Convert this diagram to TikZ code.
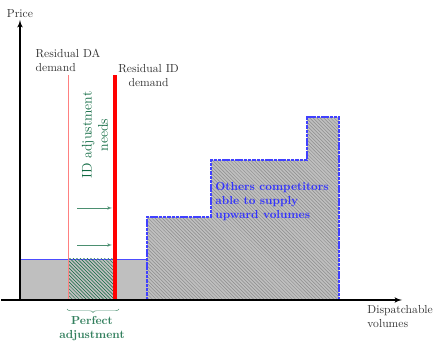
\documentclass[tikz,border=0pt]{standalone}
\usepackage{tikz}
\usetikzlibrary{arrows,positioning,patterns,decorations.pathreplacing,calc}

\definecolor{adjgreen}{RGB}{15,105,65}

\begin{document}
\begin{tikzpicture}[
        x=0.86pt, y=0.86pt,
        >=latex',
        axis/.style={
            ->,
            line width=1.2pt,
            black
        },
        lbl/.style={
            text=black!80,
            align=left,
            inner sep=1pt
        },
        base/.style={
            fill=gray!50
        },
        offer/.style={
            fill=gray!50
        },
        hatch/.style={
            pattern=north west lines,
            pattern color=gray!90
        },
        offerline/.style={
            draw=blue!75,
            line width=1pt,
            dash pattern=on 3pt off 0.7pt
        },
        adjust/.style={
            pattern=north west lines,
            pattern color=adjgreen
        },
        need/.style={
            ->,
            adjgreen!75,
            thin
        }
    ]
    \useasboundingbox (0,0) rectangle (437,342);

    % Coordinates
    \coordinate (O) at (20,42);
    \coordinate (xstart) at (1,42);
    \coordinate (xend) at (402,42);
    \coordinate (yend) at (20,322);
    \coordinate (daTop) at (68,267);
    \coordinate (idTop) at (115,267);

    % Supply blocks
    \fill [base] (O) rectangle (147,83);
    \draw [blue!70] (20,83) -- (147,83);
    \fill [offer] (147,42) -- (147,125) -- (211,125) -- (211,182) -- (307,182)
        -- (307,225) -- (339,225) -- (339,42) -- cycle;
    \fill [hatch] (148,42) -- (148,124) -- (212,124) -- (212,181) -- (308,181)
        -- (308,224) -- (338,224) -- (338,42) -- cycle;
    \fill [adjust] (68,42) rectangle (115,83);
    \draw [offerline] (147,42) -- (147,125) -- (211,125) -- (211,182) -- (307,182)
        -- (307,225) -- (339,225) -- (339,42) -- cycle;

    % Demand lines
    \draw [red!50] (68,42) -- (daTop);
    \draw [red, line width=2.6pt] (115,42) -- (idTop);

    % Axes
    \draw [axis] (xstart) -- (xend);
    \draw [axis] (O) -- (yend);

    % Labels
    \node [above=1pt of yend, lbl] (price) {Price};
    \node [anchor=north west, lbl] (vol) at (366,38) {Dispatchable\\volumes};
    \node [above=2pt of daTop, lbl] (daLbl) {Residual DA\\demand};
    \node [anchor=west, lbl, align=center] (idLbl) at ($(idTop)+(2,-1)$) {Residual ID\\demand};
    \node [rotate=90, align=center, text=adjgreen, font=\large] (needs) at (95,207) {ID adjustment\\needs};
    \node [anchor=north west, align=left, text=blue!80, font=\bfseries, inner sep=1pt] (others) at (214,161)
        {Others competitors\\able to supply\\upward volumes};

    % Adjustment arrows
    \coordinate (a1) at (77,134);
    \coordinate (b1) at (112,134);
    \coordinate (a2) at (77,97);
    \coordinate (b2) at (112,97);
    \draw [need] (a1) -- (b1);
    \draw [need] (a2) -- (b2);

    % Brace
    \coordinate (brL) at (67,33);
    \coordinate (brR) at (119,33);
    \draw [adjgreen!75, decorate, decoration={brace, mirror, amplitude=3pt}] (brL) -- (brR);
    \node [align=center, text=adjgreen!85, font=\bfseries, inner sep=1pt] (perfect) at (92,13) {Perfect\\adjustment};

\end{tikzpicture}
\end{document}
